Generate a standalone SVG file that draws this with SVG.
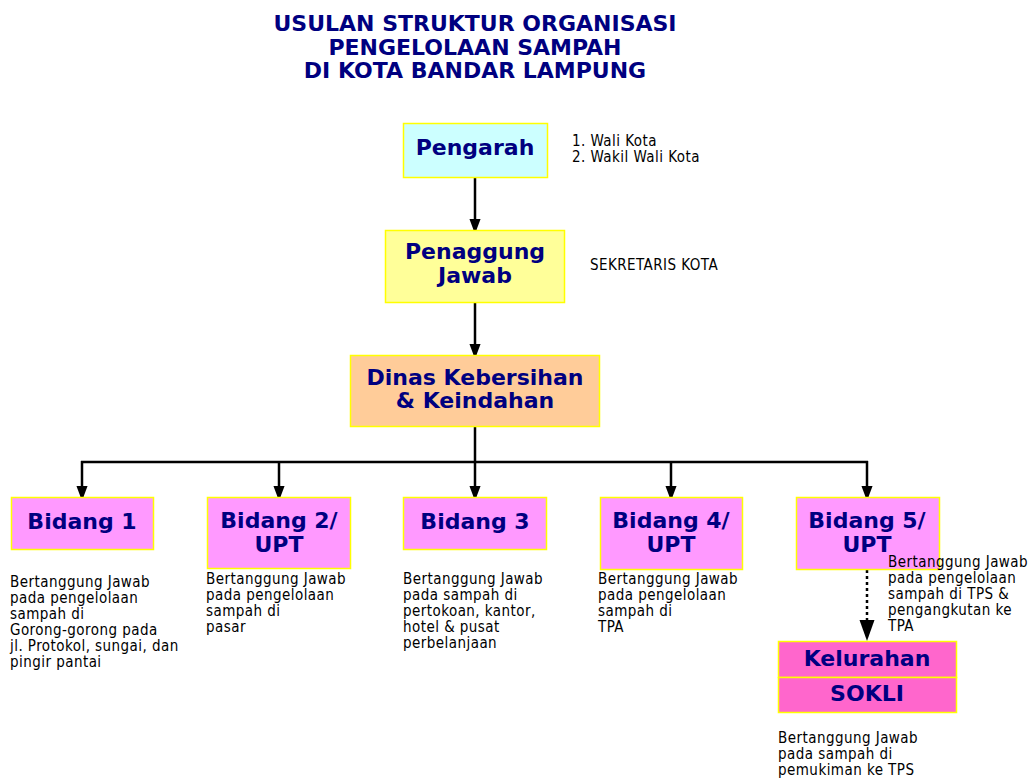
<svg xmlns="http://www.w3.org/2000/svg" width="1031" height="778" viewBox="0 0 1031 778">
  <defs>
    <style>
      .title { font-family: "DejaVu Sans", "Liberation Sans", sans-serif; font-weight: bold; font-size: 22px; fill: #000080; text-anchor: middle; }
      .box { stroke: #FFFF00; stroke-width: 1.5; }
      .lbl { font-family: "DejaVu Sans", "Liberation Sans", sans-serif; font-weight: bold; font-size: 22px; fill: #000080; text-anchor: middle; }
      .note { font-family: "DejaVu Sans Condensed", "DejaVu Sans", sans-serif; font-stretch: condensed; font-size: 15px; letter-spacing: 0.45px; fill: #000000; }
      .wire { stroke: #000000; stroke-width: 2.5; fill: none; }
      .dash { stroke: #000000; stroke-width: 2.5; fill: none; stroke-dasharray: 3 3; }
    </style>
    <marker id="arrow" markerWidth="15" markerHeight="20" refX="15" refY="7.5" orient="auto" markerUnits="userSpaceOnUse" viewBox="0 0 20 15">
      <path d="M0,0 L20,7.5 L0,15 Z" fill="#000000"/>
    </marker>
  </defs>

  <rect width="1031" height="778" fill="#FFFFFF"/>

  <!-- heading -->
  <g id="title">
    <text class="title" x="475" y="31">USULAN STRUKTUR ORGANISASI</text>
    <text class="title" x="475" y="55">PENGELOLAAN SAMPAH</text>
    <text class="title" x="475" y="78">DI KOTA BANDAR LAMPUNG</text>
  </g>

  <!-- connectors -->
  <g id="connectors">
    <line class="wire" x1="475" y1="177" x2="475" y2="230" marker-end="url(#arrow)"/>
    <line class="wire" x1="475" y1="302" x2="475" y2="355" marker-end="url(#arrow)"/>
    <line class="wire" x1="475" y1="426" x2="475" y2="462"/>
    <line class="wire" x1="81" y1="462" x2="868" y2="462"/>
    <line class="wire" x1="82" y1="461" x2="82" y2="497" marker-end="url(#arrow)"/>
    <line class="wire" x1="279" y1="461" x2="279" y2="497" marker-end="url(#arrow)"/>
    <line class="wire" x1="475" y1="461" x2="475" y2="497" marker-end="url(#arrow)"/>
    <line class="wire" x1="671" y1="461" x2="671" y2="497" marker-end="url(#arrow)"/>
    <line class="wire" x1="867" y1="461" x2="867" y2="497" marker-end="url(#arrow)"/>
    <line class="dash" x1="867" y1="570" x2="867" y2="621"/>
    <path d="M859.5,620 L874.5,620 L867,641 Z" fill="#000000"/>
  </g>

  <g id="pengarah">
    <rect class="box" x="403.5" y="123.5" width="144" height="54" fill="#CCFFFF"/>
    <text class="lbl" x="475" y="155">Pengarah</text>
    <text class="note" x="572" y="146">1. Wali Kota</text>
    <text class="note" x="572" y="162">2. Wakil Wali Kota</text>
  </g>

  <g id="penanggung-jawab">
    <rect class="box" x="385.5" y="230.5" width="179" height="72" fill="#FFFF99"/>
    <text class="lbl" x="475" y="259">Penaggung</text>
    <text class="lbl" x="475" y="283">Jawab</text>
    <text class="note" x="590" y="270">SEKRETARIS KOTA</text>
  </g>

  <g id="dinas">
    <rect class="box" x="350.5" y="355.5" width="249" height="71" fill="#FFCC99"/>
    <text class="lbl" x="475" y="385">Dinas Kebersihan</text>
    <text class="lbl" x="475" y="408">&amp; Keindahan</text>
  </g>

  <g id="bidang-1">
    <rect class="box" x="11.5" y="497.5" width="142" height="52" fill="#FF99FF"/>
    <text class="lbl" x="82" y="529">Bidang 1</text>
    <text class="note" x="10" y="587">Bertanggung Jawab</text>
    <text class="note" x="10" y="603">pada pengelolaan</text>
    <text class="note" x="10" y="619">sampah di</text>
    <text class="note" x="10" y="635">Gorong-gorong pada</text>
    <text class="note" x="10" y="651">jl. Protokol, sungai, dan</text>
    <text class="note" x="10" y="667">pingir pantai</text>
  </g>

  <g id="bidang-2">
    <rect class="box" x="207.5" y="497.5" width="143" height="71" fill="#FF99FF"/>
    <text class="lbl" x="279" y="528">Bidang 2/</text>
    <text class="lbl" x="279" y="552">UPT</text>
    <text class="note" x="206" y="584">Bertanggung Jawab</text>
    <text class="note" x="206" y="600">pada pengelolaan</text>
    <text class="note" x="206" y="616">sampah di</text>
    <text class="note" x="206" y="632">pasar</text>
  </g>

  <g id="bidang-3">
    <rect class="box" x="403.5" y="497.5" width="143" height="52" fill="#FF99FF"/>
    <text class="lbl" x="475" y="529">Bidang 3</text>
    <text class="note" x="403" y="584">Bertanggung Jawab</text>
    <text class="note" x="403" y="600">pada sampah di</text>
    <text class="note" x="403" y="616">pertokoan, kantor,</text>
    <text class="note" x="403" y="632">hotel &amp; pusat</text>
    <text class="note" x="403" y="648">perbelanjaan</text>
  </g>

  <g id="bidang-4">
    <rect class="box" x="600.5" y="497.5" width="142" height="72" fill="#FF99FF"/>
    <text class="lbl" x="671" y="528">Bidang 4/</text>
    <text class="lbl" x="671" y="552">UPT</text>
    <text class="note" x="598" y="584">Bertanggung Jawab</text>
    <text class="note" x="598" y="600">pada pengelolaan</text>
    <text class="note" x="598" y="616">sampah di</text>
    <text class="note" x="598" y="632">TPA</text>
  </g>

  <g id="bidang-5">
    <rect class="box" x="796.5" y="497.5" width="143" height="72" fill="#FF99FF"/>
    <text class="lbl" x="867" y="528">Bidang 5/</text>
    <text class="lbl" x="867" y="552">UPT</text>
    <text class="note" x="888" y="567">Bertanggung Jawab</text>
    <text class="note" x="888" y="583">pada pengelolaan</text>
    <text class="note" x="888" y="599">sampah di TPS &amp;</text>
    <text class="note" x="888" y="615">pengangkutan ke</text>
    <text class="note" x="888" y="631">TPA</text>
  </g>

  <g id="kelurahan-sokli">
    <rect class="box" x="778.5" y="641.5" width="178" height="36" fill="#FF66CC"/>
    <rect class="box" x="778.5" y="677.5" width="178" height="35" fill="#FF66CC"/>
    <text class="lbl" x="867" y="666">Kelurahan</text>
    <text class="lbl" x="867" y="701">SOKLI</text>
    <text class="note" x="778" y="743">Bertanggung Jawab</text>
    <text class="note" x="778" y="759">pada sampah di</text>
    <text class="note" x="778" y="775">pemukiman ke TPS</text>
  </g>
</svg>
